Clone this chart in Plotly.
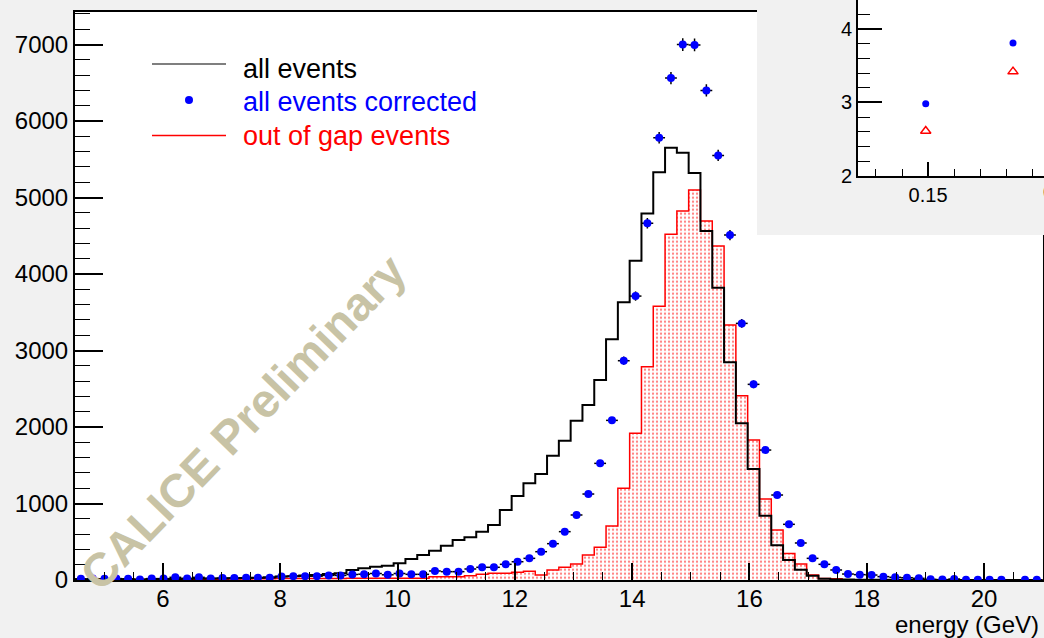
import numpy as np
import plotly.graph_objects as go

# ---------------------------------------------------------------------------
# Energy histograms (GeV), 82 equal bins between 4.5 and 21 GeV
# ---------------------------------------------------------------------------
E_MIN, E_MAX, N_BINS = 4.5, 21.0, 82
edges = np.linspace(E_MIN, E_MAX, N_BINS + 1)
centers = 0.5 * (edges[:-1] + edges[1:])
half_width = 0.5 * (edges[1] - edges[0])

all_events = [
    5, 8, 6, 8, 10, 8, 10, 12, 12, 15,
    15, 18, 20, 22, 25, 30, 35, 45, 50, 58,
    65, 78, 87, 131, 153, 174, 187, 218, 275, 327,
    383, 449, 523, 558, 632, 719, 915, 1098, 1264, 1386,
    1625, 1821, 2082, 2288, 2614, 3146, 3630, 4174, 4793, 5330,
    5651, 5586, 5320, 4562, 3821, 2846, 2050, 1451, 839, 453,
    261, 135, 57, 15, 8, 5, 3, 3, 2, 2,
    2, 1, 1, 1, 1, 0, 1, 0, 0, 0,
    0, 0,
]

all_events_corrected = [
    15, 18, 15, 18, 15, 5, 18, 18, 35, 20,
    35, 20, 25, 25, 30, 30, 30, 45, 50, 50,
    50, 60, 60, 72, 76, 85, 68, 85, 74, 74,
    118, 109, 109, 144, 166, 166, 205, 239, 283, 370,
    475, 632, 850, 1124, 1525, 2087, 2867, 3712, 4663, 5782,
    6562, 7000, 6995, 6401, 5551, 4510, 3355, 2558, 1699, 1111,
    728, 484, 283, 205, 131, 78, 70, 65, 44, 35,
    30, 22, 9, 5, 13, 3, 3, 3, 2, None,
    2, 2,
]

out_of_gap_events = [
    5, 6, 5, 6, 6, 5, 6, 8, 8, 8,
    10, 10, 10, 12, 12, 15, 15, 18, 18, 18,
    20, 20, 20, 22, 22, 22, 22, 22, 22, 22,
    44, 44, 44, 57, 74, 87, 87, 100, 113, 65,
    131, 166, 209, 327, 427, 706, 1199, 1918, 2788, 3578,
    4519, 4824, 5098, 4693, 4366, 3333, 2409, 1830, 1059, 654,
    345, 209, 65, 20, 15, 4, 3, 3, 2, 2,
    2, 1, 1, 1, 1, 1, 0, 0, 0, 0,
    0, 0,
]

# Inset: energy resolution versus 1/sqrt(E)
inset_x = [0.1491, 0.1826]
inset_corrected = [2.98, 3.81]
inset_out_of_gap = [2.61, 3.42]

FONT = "Liberation Sans, Arial, Helvetica, sans-serif"
PAD_GREY = "#f1f1f1"
W, H = 1044, 638


def px_x(px):
    return px / W


def px_y(py):
    return 1 - py / H


def steps(values):
    xs = list(edges[:-1]) + [edges[-1]]
    ys = list(values) + [values[-1]]
    return xs, ys


fig = go.Figure()

# out of gap events: dotted red fill
sx, sy = steps(out_of_gap_events)
fig.add_trace(go.Scatter(
    x=sx, y=sy, mode="lines", line=dict(color="#ff0000", width=1.5, shape="hv"),
    fill="tozeroy", fillcolor="rgba(255,255,255,0)",
    fillpattern=dict(shape=".", fgcolor="#ff0000", bgcolor="#ffffff",
                     size=4, solidity=0.25),
    name="out of gap events", showlegend=False, hoverinfo="skip",
    xaxis="x", yaxis="y"))

# all events: black outline
sx, sy = steps(all_events)
fig.add_trace(go.Scatter(
    x=sx, y=sy, mode="lines", line=dict(color="#000000", width=2, shape="hv"),
    name="all events", showlegend=False, hoverinfo="skip",
    xaxis="x", yaxis="y"))

# all events corrected: points with errors
err_y = [np.sqrt(v) if v is not None else 0 for v in all_events_corrected]
fig.add_trace(go.Scatter(
    x=centers, y=all_events_corrected, mode="markers",
    marker=dict(color="#0000ff", size=8, line=dict(width=0)),
    error_x=dict(type="constant", value=half_width, color="#000000",
                 thickness=1.5, width=0),
    error_y=dict(type="data", array=err_y, color="#000000",
                 thickness=1.5, width=0),
    name="all events corrected", showlegend=False, hoverinfo="skip",
    xaxis="x", yaxis="y"))

# grey pad holding the inset
fig.add_trace(go.Scatter(
    x=[-1, 2, 2, -1, -1], y=[-1, -1, 2, 2, -1], mode="lines",
    line=dict(width=0, color=PAD_GREY), fill="toself", fillcolor=PAD_GREY,
    showlegend=False, hoverinfo="skip", xaxis="x2", yaxis="y2"))

# inset frame interior
fig.add_trace(go.Scatter(
    x=[0, 1, 1, 0, 0], y=[0, 0, 10, 10, 0], mode="lines",
    line=dict(width=0, color="#ffffff"), fill="toself", fillcolor="#ffffff",
    showlegend=False, hoverinfo="skip", xaxis="x3", yaxis="y3"))

fig.add_trace(go.Scatter(
    x=inset_x, y=inset_corrected, mode="markers",
    marker=dict(color="#0000ff", size=7, line=dict(width=0)),
    showlegend=False, hoverinfo="skip", xaxis="x3", yaxis="y3"))
fig.add_trace(go.Scatter(
    x=inset_x, y=inset_out_of_gap, mode="markers",
    marker=dict(color="#ff0000", size=9, symbol="triangle-up-open",
                line=dict(width=1.5, color="#ff0000")),
    showlegend=False, hoverinfo="skip", xaxis="x3", yaxis="y3"))

tick_font = dict(family=FONT, size=24, color="#000000")

fig.update_layout(
    width=W, height=H, autosize=False,
    margin=dict(l=0, r=0, t=0, b=0, pad=0, autoexpand=False),
    paper_bgcolor=PAD_GREY, plot_bgcolor="#ffffff",
    showlegend=False,
    xaxis=dict(
        domain=[px_x(75), px_x(1042.7)], range=[E_MIN, E_MAX],
        tickmode="array", tickvals=[6, 8, 10, 12, 14, 16, 18, 20],
        ticks="inside", ticklen=17, tickwidth=1.5, tickcolor="#000000",
        minor=dict(ticks="inside", ticklen=8, tickwidth=1, tickcolor="#000000",
                   dtick=0.5, tick0=0),
        showline=True, linewidth=2, linecolor="#000000", mirror=True,
        showgrid=False, zeroline=False, tickfont=tick_font,
        ticklabelstandoff=-4, automargin=False),
    yaxis=dict(
        domain=[px_y(580), px_y(11.7)], range=[0, 7430],
        tickmode="array", tickvals=[0, 1000, 2000, 3000, 4000, 5000, 6000, 7000],
        ticks="inside", ticklen=28, tickwidth=1.5, tickcolor="#000000",
        minor=dict(ticks="inside", ticklen=15, tickwidth=1, tickcolor="#000000",
                   dtick=200, tick0=0),
        showline=True, linewidth=2, linecolor="#000000", mirror=True,
        showgrid=False, zeroline=False, tickfont=tick_font, automargin=False),
    xaxis2=dict(domain=[px_x(757), 1], range=[0, 1], visible=False,
                fixedrange=True),
    yaxis2=dict(domain=[px_y(235), 1], range=[0, 1], visible=False,
                fixedrange=True),
    xaxis3=dict(
        domain=[px_x(858), 1], range=[0.1231, 0.1945],
        tickmode="array", tickvals=[0.15], ticktext=["0.15"],
        ticks="inside", ticklen=14, tickwidth=1.5, tickcolor="#000000",
        minor=dict(ticks="inside", ticklen=7, tickwidth=1, tickcolor="#000000",
                   dtick=0.01, tick0=0),
        showline=True, linewidth=2, linecolor="#000000",
        showgrid=False, zeroline=False,
        tickfont=dict(family=FONT, size=20, color="#000000"),
        anchor="y3", automargin=False),
    yaxis3=dict(
        domain=[px_y(175.7), 1], range=[2, 4.397],
        tickmode="array", tickvals=[2, 3, 4],
        ticks="inside", ticklen=24, tickwidth=1.5, tickcolor="#000000",
        minor=dict(ticks="inside", ticklen=12, tickwidth=1, tickcolor="#000000",
                   dtick=0.2, tick0=0),
        showline=True, linewidth=2, linecolor="#000000",
        showgrid=False, zeroline=False,
        tickfont=dict(family=FONT, size=20, color="#000000"),
        anchor="x3", automargin=False),
)

# legend drawn by hand: samples and labels
legend_font = 27
fig.add_shape(type="line", xref="paper", yref="paper",
              x0=px_x(152), x1=px_x(226), y0=px_y(64), y1=px_y(64),
              line=dict(color="#000000", width=1.2))
fig.add_shape(type="circle", xref="paper", yref="paper",
              x0=px_x(185), x1=px_x(193), y0=px_y(104), y1=px_y(96),
              line=dict(width=0), fillcolor="#0000ff")
fig.add_shape(type="line", xref="paper", yref="paper",
              x0=px_x(152), x1=px_x(226), y0=px_y(135.5), y1=px_y(135.5),
              line=dict(color="#ff0000", width=1.5))
for label, color, yc in [("all events", "#000000", 69),
                         ("all events corrected", "#0000ff", 102),
                         ("out of gap events", "#ff0000", 135.5)]:
    fig.add_annotation(x=px_x(241), y=px_y(yc), xref="paper", yref="paper",
                       text=label, showarrow=False, xanchor="left",
                       yanchor="middle",
                       font=dict(family=FONT, size=legend_font, color=color))

# x axis title
fig.add_annotation(x=px_x(1041), y=px_y(624), xref="paper", yref="paper",
                   text="energy (GeV)", showarrow=False, xanchor="right",
                   yanchor="middle", font=tick_font)

# inset tick label partly beyond the page edge
fig.add_annotation(x=px_x(1057), y=px_y(191.5), xref="paper", yref="paper",
                   text="0.2", showarrow=False, xanchor="center",
                   yanchor="middle",
                   font=dict(family=FONT, size=20, color="#000000"))

# watermark
fig.add_annotation(x=px_x(242.5), y=px_y(422.5), xref="paper", yref="paper",
                   text="<b>CALICE Preliminary</b>", showarrow=False,
                   textangle=-46, xanchor="center", yanchor="middle",
                   font=dict(family=FONT, size=47, color="#c8c3a5"))

fig.write_html("out.html")
